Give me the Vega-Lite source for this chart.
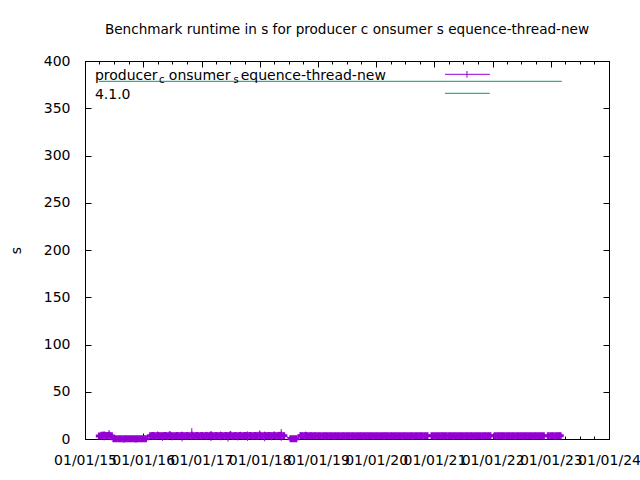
{
  "$schema": "https://vega.github.io/schema/vega-lite/v6.json",
  "width": 524,
  "height": 378,
  "autosize": "none",
  "padding": {"left": 85, "top": 61, "right": 31, "bottom": 41},
  "background": "white",
  "title": {"text": "Benchmark runtime in s for producer c onsumer s equence-thread-new", "font": "DejaVu Sans", "fontSize": 13.6, "fontWeight": "normal", "color": "black", "offset": 17, "anchor": "middle"},
  "config": {
    "view": {"stroke": "black", "strokeWidth": 1},
    "axis": {"labelFont": "DejaVu Sans", "labelFontSize": 14, "labelColor": "black", "tickColor": "black", "domain": false, "grid": false, "titleFont": "DejaVu Sans", "titleFontSize": 14, "titleFontWeight": "normal", "titleColor": "black", "labelFlush": false, "labelOverlap": false}
  },
  "datasets": {
    "bench": [
      {"d":"2015-04-01","v":3.2,"lo":0.5,"hi":4.6},
      {"d":"2015-04-16","v":3.8,"lo":-1.0,"hi":6.5},
      {"d":"2015-05-01","v":4.0,"lo":-1.5,"hi":8.0},
      {"d":"2015-05-16","v":3.6,"lo":-0.5,"hi":7.2},
      {"d":"2015-06-01","v":3.9,"lo":-1.2,"hi":9.5},
      {"d":"2015-06-16","v":3.3,"lo":1.0,"hi":5.5},
      {"d":"2015-07-01","v":0.3,"lo":-1.2,"hi":1.8},
      {"d":"2015-07-16","v":0.2,"lo":-1.5,"hi":2.0},
      {"d":"2015-08-01","v":0.3,"lo":-1.0,"hi":1.6},
      {"d":"2015-08-16","v":0.2,"lo":-1.4,"hi":1.9},
      {"d":"2015-09-01","v":0.1,"lo":-1.6,"hi":1.7},
      {"d":"2015-09-16","v":0.3,"lo":-1.1,"hi":2.0},
      {"d":"2015-10-01","v":0.2,"lo":-1.3,"hi":1.8},
      {"d":"2015-10-16","v":0.2,"lo":-1.5,"hi":1.6},
      {"d":"2015-11-01","v":0.3,"lo":-1.2,"hi":1.9},
      {"d":"2015-11-16","v":0.1,"lo":-1.4,"hi":1.7},
      {"d":"2015-12-01","v":0.2,"lo":-1.6,"hi":2.0},
      {"d":"2015-12-16","v":0.3,"lo":-1.0,"hi":1.8},
      {"d":"2016-01-01","v":0.2,"lo":-1.3,"hi":1.6},
      {"d":"2016-01-16","v":0.2,"lo":-1.5,"hi":1.9},
      {"d":"2016-02-16","v":3.5,"lo":0.4,"hi":6.0},
      {"d":"2016-03-01","v":3.6,"lo":-1.0,"hi":7.2},
      {"d":"2016-03-16","v":3.3,"lo":0.8,"hi":5.8},
      {"d":"2016-04-01","v":3.7,"lo":-0.5,"hi":8.0},
      {"d":"2016-04-16","v":3.4,"lo":0.2,"hi":6.5},
      {"d":"2016-05-01","v":3.5,"lo":-2.0,"hi":6.8},
      {"d":"2016-05-16","v":3.6,"lo":0.5,"hi":7.5},
      {"d":"2016-06-01","v":3.3,"lo":-0.8,"hi":6.2},
      {"d":"2016-06-16","v":3.8,"lo":0.1,"hi":8.4},
      {"d":"2016-07-01","v":3.5,"lo":-1.5,"hi":6.6},
      {"d":"2016-07-16","v":3.4,"lo":0.6,"hi":6.0},
      {"d":"2016-08-01","v":3.6,"lo":-0.4,"hi":7.0},
      {"d":"2016-08-16","v":3.5,"lo":0.3,"hi":6.4},
      {"d":"2016-09-01","v":3.7,"lo":-2.5,"hi":7.8},
      {"d":"2016-09-16","v":3.4,"lo":0.4,"hi":6.1},
      {"d":"2016-10-01","v":3.6,"lo":-0.6,"hi":6.9},
      {"d":"2016-10-16","v":3.5,"lo":0.2,"hi":6.3},
      {"d":"2016-11-01","v":3.8,"lo":-1.2,"hi":11.5},
      {"d":"2016-11-16","v":3.4,"lo":0.5,"hi":6.0},
      {"d":"2016-12-01","v":3.6,"lo":-0.3,"hi":6.7},
      {"d":"2016-12-16","v":3.5,"lo":0.1,"hi":6.5},
      {"d":"2017-01-01","v":3.6,"lo":-0.5,"hi":7.0},
      {"d":"2017-01-16","v":3.4,"lo":0.3,"hi":6.2},
      {"d":"2017-02-01","v":3.7,"lo":-1.0,"hi":7.6},
      {"d":"2017-02-16","v":3.5,"lo":0.2,"hi":6.4},
      {"d":"2017-03-01","v":3.8,"lo":-2.2,"hi":8.2},
      {"d":"2017-03-16","v":3.4,"lo":0.4,"hi":6.0},
      {"d":"2017-04-01","v":3.6,"lo":-0.7,"hi":7.3},
      {"d":"2017-04-16","v":3.5,"lo":0.1,"hi":6.6},
      {"d":"2017-05-01","v":3.7,"lo":-1.4,"hi":7.9},
      {"d":"2017-05-16","v":3.4,"lo":0.5,"hi":6.2},
      {"d":"2017-06-01","v":3.6,"lo":-0.2,"hi":6.8},
      {"d":"2017-06-16","v":3.5,"lo":-2.8,"hi":7.1},
      {"d":"2017-07-01","v":3.8,"lo":0.3,"hi":8.5},
      {"d":"2017-07-16","v":3.4,"lo":-0.9,"hi":6.3},
      {"d":"2017-08-01","v":3.6,"lo":0.2,"hi":7.0},
      {"d":"2017-08-16","v":3.5,"lo":-1.6,"hi":6.5},
      {"d":"2017-09-01","v":3.7,"lo":0.4,"hi":7.7},
      {"d":"2017-09-16","v":3.4,"lo":-0.4,"hi":6.1},
      {"d":"2017-10-01","v":3.6,"lo":0.1,"hi":6.9},
      {"d":"2017-10-16","v":3.5,"lo":-2.0,"hi":8.0},
      {"d":"2017-11-01","v":3.7,"lo":0.3,"hi":7.2},
      {"d":"2017-11-16","v":3.4,"lo":-0.6,"hi":6.4},
      {"d":"2017-12-01","v":3.6,"lo":0.5,"hi":6.8},
      {"d":"2017-12-16","v":3.5,"lo":-1.1,"hi":7.5},
      {"d":"2018-01-01","v":3.8,"lo":0.2,"hi":9.0},
      {"d":"2018-01-16","v":3.4,"lo":-0.5,"hi":6.3},
      {"d":"2018-02-01","v":3.7,"lo":-2.4,"hi":7.8},
      {"d":"2018-02-16","v":3.5,"lo":0.4,"hi":6.6},
      {"d":"2018-03-01","v":3.6,"lo":0.1,"hi":7.4},
      {"d":"2018-03-16","v":3.5,"lo":-1.3,"hi":6.9},
      {"d":"2018-04-01","v":3.7,"lo":0.3,"hi":8.2},
      {"d":"2018-04-16","v":3.4,"lo":-0.7,"hi":6.5},
      {"d":"2018-05-01","v":3.6,"lo":0.2,"hi":7.6},
      {"d":"2018-05-16","v":3.8,"lo":-1.9,"hi":10.5},
      {"d":"2018-06-01","v":3.5,"lo":0.4,"hi":6.8},
      {"d":"2018-07-16","v":0.3,"lo":-1.2,"hi":1.8},
      {"d":"2018-08-01","v":0.2,"lo":-1.5,"hi":1.9},
      {"d":"2018-08-16","v":0.3,"lo":-1.1,"hi":1.7},
      {"d":"2018-09-16","v":3.5,"lo":2.2,"hi":7.5},
      {"d":"2018-10-01","v":3.4,"lo":2.4,"hi":5.0},
      {"d":"2018-10-16","v":3.6,"lo":2.1,"hi":7.8},
      {"d":"2018-11-01","v":3.4,"lo":2.5,"hi":4.8},
      {"d":"2018-11-16","v":3.5,"lo":2.3,"hi":6.8},
      {"d":"2018-12-01","v":3.4,"lo":2.5,"hi":4.6},
      {"d":"2018-12-16","v":3.5,"lo":2.4,"hi":7.0},
      {"d":"2019-01-01","v":3.4,"lo":2.5,"hi":4.5},
      {"d":"2019-01-16","v":3.5,"lo":2.4,"hi":4.6},
      {"d":"2019-02-01","v":3.4,"lo":2.5,"hi":4.4},
      {"d":"2019-02-16","v":3.3,"lo":2.4,"hi":4.5},
      {"d":"2019-03-01","v":3.4,"lo":2.5,"hi":4.6},
      {"d":"2019-03-16","v":3.5,"lo":2.4,"hi":4.5},
      {"d":"2019-04-01","v":3.4,"lo":2.5,"hi":4.4},
      {"d":"2019-04-16","v":3.3,"lo":2.4,"hi":4.6},
      {"d":"2019-05-01","v":3.4,"lo":2.5,"hi":4.5},
      {"d":"2019-05-16","v":3.5,"lo":2.4,"hi":4.4},
      {"d":"2019-06-01","v":3.4,"lo":2.5,"hi":4.6},
      {"d":"2019-06-16","v":3.3,"lo":2.4,"hi":4.5},
      {"d":"2019-07-01","v":3.4,"lo":2.5,"hi":4.4},
      {"d":"2019-07-16","v":3.5,"lo":2.4,"hi":4.6},
      {"d":"2019-08-01","v":3.4,"lo":2.5,"hi":4.5},
      {"d":"2019-08-16","v":3.3,"lo":2.4,"hi":4.4},
      {"d":"2019-09-01","v":3.4,"lo":2.5,"hi":4.6},
      {"d":"2019-09-16","v":3.5,"lo":2.4,"hi":4.5},
      {"d":"2019-10-01","v":3.4,"lo":2.5,"hi":4.4},
      {"d":"2019-10-16","v":3.3,"lo":2.4,"hi":4.6},
      {"d":"2019-11-01","v":3.4,"lo":2.5,"hi":4.5},
      {"d":"2019-11-16","v":3.5,"lo":2.4,"hi":4.4},
      {"d":"2019-12-01","v":3.4,"lo":2.5,"hi":4.6},
      {"d":"2019-12-16","v":3.3,"lo":2.4,"hi":4.5},
      {"d":"2020-01-01","v":3.4,"lo":2.5,"hi":4.4},
      {"d":"2020-01-16","v":3.5,"lo":2.4,"hi":4.6},
      {"d":"2020-02-01","v":3.4,"lo":2.5,"hi":4.5},
      {"d":"2020-02-16","v":3.3,"lo":2.4,"hi":4.4},
      {"d":"2020-03-01","v":3.4,"lo":2.5,"hi":4.6},
      {"d":"2020-03-16","v":3.5,"lo":2.4,"hi":4.5},
      {"d":"2020-04-01","v":3.4,"lo":2.5,"hi":4.4},
      {"d":"2020-04-16","v":3.3,"lo":2.4,"hi":4.6},
      {"d":"2020-05-01","v":3.4,"lo":2.5,"hi":4.5},
      {"d":"2020-05-16","v":3.5,"lo":2.4,"hi":4.4},
      {"d":"2020-06-01","v":3.4,"lo":2.5,"hi":4.6},
      {"d":"2020-06-16","v":3.3,"lo":2.4,"hi":4.5},
      {"d":"2020-07-01","v":3.4,"lo":2.5,"hi":4.4},
      {"d":"2020-07-16","v":3.5,"lo":2.4,"hi":4.6},
      {"d":"2020-08-01","v":3.4,"lo":2.5,"hi":4.5},
      {"d":"2020-08-16","v":3.3,"lo":2.4,"hi":4.4},
      {"d":"2020-09-01","v":3.4,"lo":2.5,"hi":4.6},
      {"d":"2020-09-16","v":3.5,"lo":2.4,"hi":4.5},
      {"d":"2020-10-01","v":3.4,"lo":2.5,"hi":4.4},
      {"d":"2020-10-16","v":3.3,"lo":2.4,"hi":4.6},
      {"d":"2020-11-01","v":3.4,"lo":2.5,"hi":4.5},
      {"d":"2020-11-16","v":3.5,"lo":2.4,"hi":4.4},
      {"d":"2020-12-16","v":3.4,"lo":2.5,"hi":4.6},
      {"d":"2021-01-01","v":3.3,"lo":2.4,"hi":4.5},
      {"d":"2021-01-16","v":3.4,"lo":2.5,"hi":4.4},
      {"d":"2021-02-01","v":3.5,"lo":2.4,"hi":4.6},
      {"d":"2021-02-16","v":3.4,"lo":2.5,"hi":4.5},
      {"d":"2021-03-01","v":3.3,"lo":2.4,"hi":4.4},
      {"d":"2021-03-16","v":3.4,"lo":2.5,"hi":4.6},
      {"d":"2021-04-01","v":3.5,"lo":2.4,"hi":4.5},
      {"d":"2021-04-16","v":3.4,"lo":2.5,"hi":4.4},
      {"d":"2021-05-01","v":3.3,"lo":2.4,"hi":4.6},
      {"d":"2021-05-16","v":3.4,"lo":2.5,"hi":4.5},
      {"d":"2021-06-01","v":3.5,"lo":2.4,"hi":4.4},
      {"d":"2021-06-16","v":3.4,"lo":2.5,"hi":4.6},
      {"d":"2021-07-01","v":3.3,"lo":2.4,"hi":4.5},
      {"d":"2021-07-16","v":3.4,"lo":2.5,"hi":4.4},
      {"d":"2021-08-01","v":3.5,"lo":2.4,"hi":4.6},
      {"d":"2021-08-16","v":3.4,"lo":2.5,"hi":4.5},
      {"d":"2021-09-01","v":3.3,"lo":2.4,"hi":4.4},
      {"d":"2021-09-16","v":3.4,"lo":2.5,"hi":4.6},
      {"d":"2021-10-01","v":3.5,"lo":2.4,"hi":4.5},
      {"d":"2021-10-16","v":3.4,"lo":2.5,"hi":4.4},
      {"d":"2021-11-01","v":3.3,"lo":2.4,"hi":4.6},
      {"d":"2021-11-16","v":3.4,"lo":2.5,"hi":4.5},
      {"d":"2021-12-01","v":3.5,"lo":2.4,"hi":4.4},
      {"d":"2021-12-16","v":3.4,"lo":2.5,"hi":4.6},
      {"d":"2022-01-16","v":3.3,"lo":2.4,"hi":4.5},
      {"d":"2022-02-01","v":3.4,"lo":2.5,"hi":4.4},
      {"d":"2022-02-16","v":3.5,"lo":2.4,"hi":4.6},
      {"d":"2022-03-01","v":3.4,"lo":2.5,"hi":4.5},
      {"d":"2022-03-16","v":3.3,"lo":2.4,"hi":4.4},
      {"d":"2022-04-01","v":3.4,"lo":2.5,"hi":4.6},
      {"d":"2022-04-16","v":3.5,"lo":2.4,"hi":4.5},
      {"d":"2022-05-01","v":3.4,"lo":2.5,"hi":4.4},
      {"d":"2022-05-16","v":3.3,"lo":2.4,"hi":4.6},
      {"d":"2022-06-01","v":3.4,"lo":2.5,"hi":4.5},
      {"d":"2022-06-16","v":3.5,"lo":2.4,"hi":4.4},
      {"d":"2022-07-01","v":3.4,"lo":2.5,"hi":4.6},
      {"d":"2022-07-16","v":3.3,"lo":2.4,"hi":4.5},
      {"d":"2022-08-01","v":3.4,"lo":2.5,"hi":4.4},
      {"d":"2022-08-16","v":3.5,"lo":2.4,"hi":4.6},
      {"d":"2022-09-01","v":3.4,"lo":2.5,"hi":4.5},
      {"d":"2022-09-16","v":3.3,"lo":2.4,"hi":4.4},
      {"d":"2022-10-01","v":3.4,"lo":2.5,"hi":4.6},
      {"d":"2022-10-16","v":3.5,"lo":2.4,"hi":4.5},
      {"d":"2022-11-01","v":3.4,"lo":2.5,"hi":4.4},
      {"d":"2022-11-16","v":3.3,"lo":2.4,"hi":4.6},
      {"d":"2022-12-16","v":3.4,"lo":2.5,"hi":4.5},
      {"d":"2023-01-01","v":3.5,"lo":2.4,"hi":4.4},
      {"d":"2023-01-16","v":3.4,"lo":2.5,"hi":4.6},
      {"d":"2023-02-01","v":3.3,"lo":2.4,"hi":4.5},
      {"d":"2023-02-16","v":3.4,"lo":2.5,"hi":4.4},
      {"d":"2023-03-01","v":3.4,"lo":2.6,"hi":4.2}
    ],
    "ver": [
      {"d":"2015-03-29","v":378.5},
      {"d":"2023-03-11","v":378.5}
    ],
    "keymain": [
      {"d":"2015-03-04","v":380.4,"t":"producer"},
      {"d":"2016-06-10","v":380.4,"t":"onsumer"},
      {"d":"2017-09-04","v":380.4,"t":"equence-thread-new"},
      {"d":"2015-03-04","v":359.8,"t":"4.1.0"}
    ],
    "keysub": [
      {"d":"2016-04-09","v":377.0,"t":"c"},
      {"d":"2017-07-20","v":377.0,"t":"s"}
    ],
    "keyline": [
      {"d":"2021-03-08","d2":"2021-12-15","v":385.9,"s":"producer_consumer_sequence-thread-new"},
      {"d":"2021-03-08","d2":"2021-12-15","v":365.8,"s":"4.1.0"}
    ],
    "keytick": [
      {"d":"2021-07-24","v":382.4,"v2":389.4}
    ]
  },
  "resolve": {"axis": {"x": "independent", "y": "independent"}},
  "layer": [
    {
      "data": {"name": "bench"},
      "mark": {"type": "line", "color": "#9400D3", "strokeWidth": 1},
      "encoding": {
        "x": {"field": "d", "type": "temporal", "scale": {"type": "utc", "domain": [{"year": 2015, "month": 1, "date": 1, "utc": true}, {"year": 2024, "month": 1, "date": 1, "utc": true}]}, "axis": {"orient": "bottom", "tickCount": {"interval": "year", "step": 1}, "format": "%m/%d/%y", "tickSize": -6, "labelPadding": 20, "title": null}},
        "y": {"field": "v", "type": "quantitative", "scale": {"domain": [0, 400], "nice": false, "zero": false}, "axis": {"orient": "left", "values": [0, 50, 100, 150, 200, 250, 300, 350, 400], "tickSize": -6, "labelPadding": 21, "title": "s", "titlePadding": 20}}
      }
    },
    {
      "data": {"name": "bench"},
      "mark": {"type": "rule", "color": "#9400D3", "strokeWidth": 1},
      "encoding": {
        "x": {"field": "d", "type": "temporal", "axis": {"orient": "bottom", "tickCount": {"interval": "month", "step": 3}, "labels": false, "tickSize": -3, "title": null}},
        "y": {"field": "lo", "type": "quantitative", "axis": {"orient": "right", "values": [0, 50, 100, 150, 200, 250, 300, 350, 400], "labels": false, "tickSize": -6, "title": null}},
        "y2": {"field": "hi"}
      }
    },
    {
      "data": {"name": "bench"},
      "mark": {"type": "point", "shape": "cross", "filled": true, "size": 50, "color": "#9400D3", "opacity": 1},
      "encoding": {
        "x": {"field": "d", "type": "temporal", "axis": {"orient": "top", "tickCount": {"interval": "year", "step": 1}, "labels": false, "tickSize": -6, "title": null}},
        "y": {"field": "v", "type": "quantitative", "axis": null}
      }
    },
    {
      "data": {"name": "ver"},
      "mark": {"type": "line", "color": "#009E73", "strokeWidth": 1},
      "encoding": {
        "x": {"field": "d", "type": "temporal", "axis": {"orient": "top", "tickCount": {"interval": "month", "step": 3}, "labels": false, "tickSize": -3, "title": null}},
        "y": {"field": "v", "type": "quantitative", "axis": null}
      }
    },
    {
      "data": {"name": "keymain"},
      "mark": {"type": "text", "align": "left", "baseline": "alphabetic", "font": "DejaVu Sans", "fontSize": 14, "color": "black"},
      "encoding": {
        "x": {"field": "d", "type": "temporal", "axis": null},
        "y": {"field": "v", "type": "quantitative", "axis": null},
        "text": {"field": "t"}
      }
    },
    {
      "data": {"name": "keysub"},
      "mark": {"type": "text", "align": "left", "baseline": "alphabetic", "font": "DejaVu Sans", "fontSize": 10, "color": "black"},
      "encoding": {
        "x": {"field": "d", "type": "temporal", "axis": null},
        "y": {"field": "v", "type": "quantitative", "axis": null},
        "text": {"field": "t"}
      }
    },
    {
      "data": {"name": "keyline"},
      "mark": {"type": "rule", "strokeWidth": 1},
      "encoding": {
        "x": {"field": "d", "type": "temporal", "axis": null},
        "x2": {"field": "d2"},
        "y": {"field": "v", "type": "quantitative", "axis": null},
        "color": {"field": "s", "type": "nominal", "scale": {"domain": ["producer_consumer_sequence-thread-new", "4.1.0"], "range": ["#9400D3", "#009E73"]}, "legend": null}
      }
    },
    {
      "data": {"name": "keytick"},
      "mark": {"type": "rule", "strokeWidth": 1, "color": "#9400D3"},
      "encoding": {
        "x": {"field": "d", "type": "temporal", "axis": null},
        "y": {"field": "v", "type": "quantitative", "axis": null},
        "y2": {"field": "v2"}
      }
    }
  ]
}
